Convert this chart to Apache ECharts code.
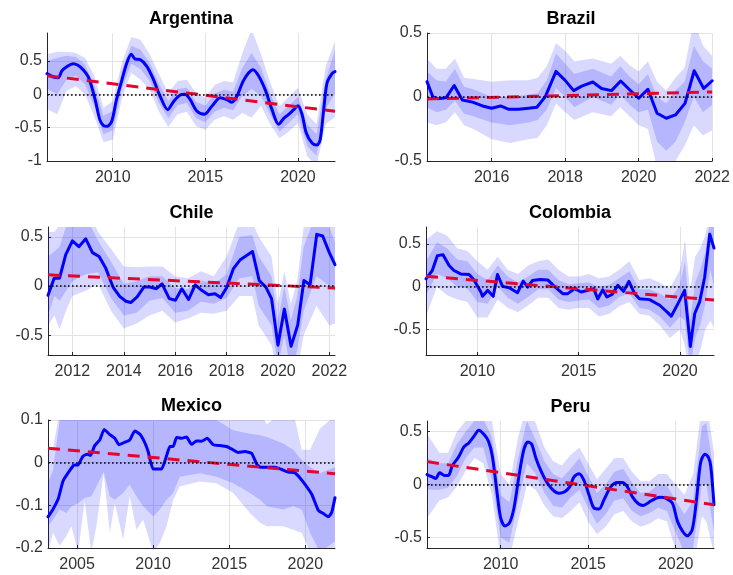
<!DOCTYPE html>
<html><head><meta charset="utf-8">
<script src="https://cdn.jsdelivr.net/npm/echarts@6/dist/echarts.min.js"></script>
<style>html,body{margin:0;padding:0;background:#fff}#c{width:733px;height:575px}</style>
</head><body><div id="c"></div>
<script>
// ---------------- DATA ----------------
const panelTitles = ['Argentina', 'Brazil', 'Chile', 'Colombia', 'Mexico', 'Peru'];

// Argentina
const argentinaXRange = [2006.45, 2022.0];
const argentinaYRange = [-1, 0.92];
const argentinaXTicks = [2010, 2015, 2020];
const argentinaYTicks = [-1, -0.5, 0, 0.5];
const argentinaLineX = [2006.45,2006.8,2007.06,2007.25,2007.55,2007.85,2008.1,2008.4,2008.7,2009.05,2009.3,2009.5,2009.7,2009.95,2010.2,2010.5,2010.76,2011.0,2011.2,2011.48,2011.84,2012.2,2012.56,2012.97,2013.28,2013.64,2013.9,2014.18,2014.54,2014.94,2015.35,2015.8,2016.16,2016.43,2016.7,2017.03,2017.33,2017.57,2017.87,2018.23,2018.6,2018.96,2019.23,2019.5,2019.77,2020.0,2020.22,2020.45,2020.76,2021.03,2021.2,2021.39,2021.57,2021.84,2022.0];
const argentinaLineY = [0.31,0.26,0.25,0.35,0.42,0.46,0.44,0.37,0.25,-0.08,-0.38,-0.47,-0.48,-0.40,-0.08,0.22,0.47,0.60,0.53,0.52,0.42,0.22,-0.03,-0.23,-0.11,-0.01,0.0,-0.08,-0.25,-0.30,-0.18,-0.05,-0.08,-0.12,-0.03,0.19,0.32,0.37,0.28,0.07,-0.23,-0.45,-0.36,-0.30,-0.23,-0.17,-0.30,-0.58,-0.73,-0.76,-0.68,-0.23,0.17,0.31,0.34];
const argentinaBandX = [2006.45,2007,2007.5,2008,2008.5,2009,2009.5,2010,2010.5,2011,2011.5,2012,2012.5,2013,2013.5,2014,2014.5,2015,2015.5,2016,2016.5,2017,2017.5,2018,2018.5,2019,2019.5,2020,2020.5,2021,2021.5,2022];
const argentinaOuterHi = [0.60,0.64,0.64,0.62,0.55,0.28,-0.20,-0.10,0.48,0.86,0.82,0.60,0.30,0.02,0.20,0.22,0.02,-0.05,0.14,0.20,0.18,0.62,0.98,0.60,0.18,-0.18,-0.04,0.10,-0.30,-0.45,0.42,0.80];
const argentinaInnerHi = [0.50,0.55,0.58,0.56,0.45,0.13,-0.32,-0.25,0.36,0.73,0.67,0.47,0.15,-0.10,0.08,0.10,-0.11,-0.17,0.01,0.07,0.04,0.40,0.62,0.40,0.01,-0.30,-0.17,-0.04,-0.45,-0.60,0.22,0.66];
const argentinaInnerLo = [0.08,0.00,0.22,0.28,0.15,-0.18,-0.60,-0.54,0.08,0.46,0.38,0.20,-0.13,-0.36,-0.16,-0.13,-0.36,-0.42,-0.26,-0.20,-0.24,-0.02,0.08,-0.02,-0.30,-0.56,-0.43,-0.30,-0.78,-0.92,-0.22,0.02];
const argentinaOuterLo = [-0.22,-0.30,0.05,0.12,0.00,-0.33,-0.72,-0.68,-0.06,0.32,0.22,0.06,-0.26,-0.49,-0.30,-0.26,-0.48,-0.53,-0.38,-0.33,-0.38,-0.28,-0.35,-0.17,-0.45,-0.66,-0.56,-0.43,-0.93,-1.08,-0.45,-0.34];
const argentinaTrendX = [2006.45, 2022.0];
const argentinaTrendY = [0.28, -0.255];

// Brazil
const brazilXRange = [2014.24, 2022.0];
const brazilYRange = [-0.5, 0.5];
const brazilXTicks = [2016, 2018, 2020, 2022];
const brazilYTicks = [-0.5, 0, 0.5];
const brazilLineX = [2014.24,2014.4,2014.53,2014.76,2014.98,2015.2,2015.48,2015.75,2016.0,2016.24,2016.47,2016.74,2017.0,2017.23,2017.46,2017.75,2018.0,2018.23,2018.45,2018.75,2018.99,2019.26,2019.51,2019.76,2020.0,2020.25,2020.5,2020.75,2021.0,2021.26,2021.51,2021.77,2022.0];
const brazilLineY = [0.12,0.0,-0.013,-0.005,0.09,-0.023,-0.04,-0.07,-0.088,-0.07,-0.096,-0.096,-0.088,-0.08,0.003,0.2,0.13,0.05,0.085,0.117,0.067,0.05,0.125,0.055,-0.01,0.06,-0.127,-0.166,-0.14,-0.05,0.205,0.067,0.127];
const brazilBandX = [2014.24,2014.5,2014.75,2015,2015.25,2015.5,2016,2016.5,2017,2017.25,2017.5,2017.75,2018,2018.25,2018.75,2019.25,2019.5,2019.75,2020,2020.25,2020.5,2020.75,2021,2021.25,2021.5,2021.75,2022];
const brazilOuterHi = [0.30,0.22,0.22,0.30,0.15,0.14,0.12,0.13,0.13,0.15,0.24,0.42,0.36,0.28,0.30,0.26,0.32,0.25,0.20,0.28,0.12,0.05,0.15,0.23,0.60,0.40,0.32];
const brazilInnerHi = [0.20,0.13,0.12,0.22,0.08,0.06,0.00,0.00,0.02,0.03,0.13,0.34,0.26,0.18,0.22,0.16,0.24,0.16,0.10,0.18,0.00,-0.05,0.05,0.12,0.40,0.28,0.22];
const brazilInnerLo = [-0.08,-0.12,-0.10,-0.03,-0.13,-0.15,-0.20,-0.22,-0.20,-0.18,-0.10,0.07,0.00,-0.08,0.00,-0.06,0.02,-0.06,-0.12,-0.10,-0.35,-0.42,-0.35,-0.20,0.00,-0.12,-0.06];
const brazilOuterLo = [-0.20,-0.22,-0.20,-0.12,-0.22,-0.25,-0.33,-0.36,-0.33,-0.32,-0.22,-0.05,-0.12,-0.18,-0.12,-0.15,-0.08,-0.15,-0.22,-0.25,-0.55,-0.60,-0.50,-0.38,-0.22,-0.30,-0.26];
const brazilTrendX = [2014.24, 2022.0];
const brazilTrendY = [-0.015, 0.04];

// Chile
const chileXRange = [2011.05, 2022.22];
const chileYRange = [-0.7, 0.6];
const chileXTicks = [2012, 2014, 2016, 2018, 2020, 2022];
const chileYTicks = [-0.5, 0, 0.5];
const chileLineX = [2011.05,2011.29,2011.5,2011.74,2012.0,2012.25,2012.52,2012.78,2013.04,2013.3,2013.58,2013.84,2014.08,2014.27,2014.52,2014.78,2015.01,2015.27,2015.49,2015.77,2016.01,2016.26,2016.52,2016.78,2017.03,2017.29,2017.55,2017.77,2018.0,2018.26,2018.52,2018.78,2019.01,2019.27,2019.53,2019.75,2020.0,2020.25,2020.51,2020.77,2021.01,2021.25,2021.51,2021.74,2022.0,2022.22];
const chileLineY = [-0.094,0.08,0.08,0.32,0.46,0.40,0.48,0.34,0.30,0.18,-0.01,-0.104,-0.154,-0.167,-0.11,-0.01,-0.01,-0.027,0.023,-0.127,-0.144,-0.027,-0.137,0.013,-0.043,-0.087,-0.077,-0.117,-0.017,0.174,0.264,0.31,0.35,0.057,-0.01,-0.127,-0.60,-0.234,-0.612,-0.395,0.057,0.013,0.525,0.508,0.34,0.217];
const chileBandX = [2011.05,2011.3,2011.5,2011.75,2012,2012.5,2013,2013.5,2014,2014.5,2015,2015.5,2016,2016.5,2017,2017.5,2018,2018.5,2019,2019.25,2019.75,2020,2020.25,2020.5,2020.75,2021,2021.5,2022,2022.22];
const chileOuterHi = [0.55,0.55,0.62,0.72,0.80,0.85,0.55,0.38,0.20,0.19,0.20,0.20,0.10,0.08,0.15,0.10,0.30,0.65,0.65,0.50,0.30,-0.18,0.15,-0.18,0.05,0.60,0.90,0.75,0.60];
const chileInnerHi = [0.30,0.35,0.40,0.60,0.70,0.72,0.46,0.25,0.02,0.05,0.10,0.10,-0.02,-0.03,0.06,0.02,0.12,0.50,0.52,0.30,0.10,-0.35,0.00,-0.35,-0.10,0.40,0.75,0.60,0.45];
const chileInnerLo = [-0.30,-0.10,-0.15,-0.05,0.05,0.12,0.14,-0.12,-0.30,-0.27,-0.15,-0.12,-0.27,-0.25,-0.16,-0.18,-0.12,0.08,0.10,-0.20,-0.40,-0.80,-0.50,-0.85,-0.65,-0.25,0.10,0.00,-0.05];
const chileOuterLo = [-0.40,-0.30,-0.44,-0.25,-0.10,-0.05,0.02,-0.25,-0.43,-0.38,-0.30,-0.25,-0.37,-0.33,-0.27,-0.28,-0.25,-0.10,-0.10,-0.40,-0.60,-0.90,-0.70,-1.00,-0.85,-0.50,-0.20,-0.40,-0.38];
const chileTrendX = [2011.05, 2022.22];
const chileTrendY = [0.114, -0.02];

// Colombia
const colombiaXRange = [2007.46, 2021.68];
const colombiaYRange = [-0.8, 0.7];
const colombiaXTicks = [2010, 2015, 2020];
const colombiaYTicks = [-0.5, 0, 0.5];
const colombiaLineX = [2007.46,2007.77,2008.02,2008.3,2008.6,2008.84,2009.17,2009.59,2009.83,2010.17,2010.25,2010.5,2010.78,2010.99,2011.24,2011.57,2011.98,2012.26,2012.48,2012.72,2013.09,2013.47,2013.8,2014.21,2014.46,2014.79,2015.12,2015.45,2015.74,2015.94,2016.19,2016.39,2016.65,2016.93,2017.21,2017.48,2017.76,2018.0,2018.5,2019.0,2019.41,2019.57,2019.9,2020.23,2020.48,2020.51,2020.73,2020.97,2021.22,2021.47,2021.68];
const colombiaLineY = [0.093,0.19,0.364,0.376,0.248,0.19,0.15,0.143,0.08,-0.062,-0.112,-0.043,-0.112,0.143,0.004,-0.012,-0.07,0.066,-0.004,0.074,0.085,0.08,0.004,-0.081,-0.081,-0.023,-0.062,-0.043,-0.023,-0.143,-0.035,-0.12,-0.089,0.016,-0.054,0.062,-0.081,-0.14,-0.151,-0.217,-0.306,-0.345,-0.198,-0.043,-0.616,-0.70,-0.314,-0.178,0.112,0.616,0.453];
const colombiaBandX = [2007.46,2008,2008.5,2009,2009.5,2010,2010.5,2011,2011.5,2012,2012.5,2013,2013.5,2014,2014.5,2015,2015.5,2016,2016.5,2017,2017.5,2018,2018.5,2019,2019.5,2020,2020.25,2020.5,2020.75,2021,2021.25,2021.5,2021.68];
const colombiaOuterHi = [0.55,0.65,0.60,0.45,0.42,0.30,0.20,0.35,0.20,0.15,0.25,0.30,0.32,0.20,0.12,0.12,0.15,0.10,0.12,0.20,0.30,0.08,0.10,0.05,-0.02,0.20,0.55,-0.05,0.35,0.45,0.60,0.90,0.80];
const colombiaInnerHi = [0.30,0.52,0.45,0.32,0.30,0.15,0.08,0.25,0.12,0.05,0.12,0.20,0.20,0.08,0.03,0.04,0.05,0.00,0.02,0.10,0.18,-0.03,-0.03,-0.08,-0.15,0.02,0.30,-0.40,0.05,0.20,0.40,0.80,0.70];
const colombiaInnerLo = [-0.10,0.15,0.10,0.00,-0.02,-0.18,-0.20,0.00,-0.13,-0.20,-0.12,-0.03,-0.03,-0.15,-0.18,-0.16,-0.15,-0.25,-0.22,-0.12,-0.08,-0.25,-0.27,-0.35,-0.48,-0.35,-0.40,-0.95,-0.60,-0.45,-0.20,0.20,0.00];
const colombiaOuterLo = [-0.35,0.00,-0.10,-0.15,-0.18,-0.36,-0.36,-0.15,-0.25,-0.30,-0.22,-0.13,-0.13,-0.25,-0.27,-0.25,-0.25,-0.35,-0.32,-0.23,-0.18,-0.32,-0.34,-0.45,-0.60,-0.50,-0.70,-1.10,-0.90,-0.75,-0.50,-0.40,-0.48];
const colombiaTrendX = [2007.46, 2021.68];
const colombiaTrendY = [0.124, -0.155];

// Mexico
const mexicoXRange = [2003.09, 2021.95];
const mexicoYRange = [-0.2, 0.1];
const mexicoXTicks = [2005, 2010, 2015, 2020];
const mexicoYTicks = [-0.2, -0.1, 0, 0.1];
const mexicoLineX = [2003.09,2003.42,2003.75,2004.08,2004.41,2004.78,2005.07,2005.39,2005.66,2005.88,2006.16,2006.49,2006.78,2007.11,2007.48,2007.76,2008.14,2008.46,2008.79,2009.12,2009.45,2009.67,2010.0,2010.55,2010.88,2011.1,2011.32,2011.54,2011.86,2012.19,2012.52,2012.85,2013.18,2013.55,2013.95,2014.39,2014.82,2015.26,2015.59,2016.03,2016.47,2016.8,2017.06,2017.46,2018.0,2018.44,2018.88,2019.32,2019.65,2019.98,2020.42,2020.86,2021.18,2021.51,2021.73,2021.95];
const mexicoLineY = [-0.127,-0.109,-0.086,-0.043,-0.024,-0.006,-0.005,0.015,0.02,0.017,0.04,0.053,0.078,0.067,0.057,0.042,0.048,0.053,0.074,0.067,0.047,0.026,-0.015,-0.015,0.016,0.038,0.038,0.059,0.057,0.06,0.043,0.051,0.05,0.057,0.042,0.04,0.038,0.03,0.024,0.026,0.022,-0.003,-0.011,-0.011,-0.011,-0.016,-0.022,-0.024,-0.036,-0.051,-0.074,-0.112,-0.119,-0.127,-0.117,-0.082];
const mexicoBandX = [2003.09,2003.42,2003.86,2004.3,2004.63,2005.07,2005.5,2005.94,2006.27,2006.75,2007.15,2007.48,2008.03,2008.46,2008.9,2009.34,2010.0,2010.44,2010.88,2011.32,2011.75,2013.07,2014.17,2015.26,2016.36,2017.02,2017.46,2018.55,2019.21,2019.76,2020.31,2020.96,2021.95];
const mexicoOuterHi = [0.035,0.035,0.12,0.12,0.12,0.12,0.12,0.12,0.12,0.12,0.12,0.12,0.12,0.12,0.12,0.12,0.12,0.12,0.12,0.12,0.12,0.12,0.12,0.12,0.12,0.12,0.09,0.12,0.12,0.03,0.03,0.08,0.11];
const mexicoInnerHi = [-0.048,-0.017,0.10,0.12,0.12,0.12,0.12,0.12,0.12,0.12,0.12,0.12,0.12,0.12,0.12,0.12,0.12,0.10,0.10,0.10,0.10,0.10,0.10,0.076,0.068,0.064,0.06,0.045,0.03,0.006,-0.01,-0.025,-0.01];
const mexicoInnerLo = [-0.149,-0.133,-0.11,-0.118,-0.102,-0.095,-0.083,-0.079,-0.056,-0.021,-0.079,-0.087,-0.071,-0.052,-0.079,-0.102,-0.126,-0.11,-0.087,-0.071,-0.033,-0.025,-0.033,-0.048,-0.071,-0.087,-0.102,-0.11,-0.102,-0.11,-0.164,-0.21,-0.185];
const mexicoOuterLo = [-0.21,-0.164,-0.195,-0.172,-0.149,-0.21,-0.09,-0.21,-0.149,-0.025,-0.164,-0.095,-0.18,-0.079,-0.157,-0.133,-0.21,-0.188,-0.149,-0.087,-0.056,-0.044,-0.048,-0.071,-0.118,-0.141,-0.149,-0.149,-0.157,-0.164,-0.21,-0.23,-0.2];
const mexicoTrendX = [2003.09, 2021.95];
const mexicoTrendY = [0.034, -0.026];

// Peru
const peruXRange = [2005.79, 2022.19];
const peruYRange = [-0.6, 0.6];
const peruXTicks = [2010, 2015, 2020];
const peruYTicks = [-0.5, 0, 0.5];
const peruLineX = [2005.79,2006.1,2006.29,2006.51,2006.8,2007.01,2007.24,2007.58,2007.9,2008.19,2008.48,2008.76,2009.05,2009.3,2009.52,2009.81,2010.0,2010.25,2010.51,2010.76,2011.05,2011.33,2011.56,2011.77,2012.0,2012.29,2012.57,2012.95,2013.33,2013.66,2013.94,2014.19,2014.48,2014.76,2015.05,2015.33,2015.62,2015.9,2016.29,2016.67,2016.95,2017.24,2017.52,2017.87,2018.15,2018.48,2018.86,2019.14,2019.43,2019.81,2020.1,2020.38,2020.67,2020.95,2021.18,2021.43,2021.68,2021.87,2022.0,2022.19];
const peruLineY = [0.093,0.071,0.056,0.111,0.086,0.086,0.179,0.256,0.355,0.395,0.457,0.512,0.472,0.41,0.272,-0.099,-0.315,-0.392,-0.361,-0.222,0.086,0.333,0.401,0.38,0.256,0.133,0.04,-0.046,-0.083,-0.068,-0.022,0.071,0.102,0.04,-0.099,-0.222,-0.231,-0.145,-0.022,0.019,0.019,-0.022,-0.114,-0.182,-0.198,-0.167,-0.13,-0.12,-0.13,-0.176,-0.346,-0.438,-0.485,-0.423,-0.16,0.21,0.287,0.256,0.179,-0.191];
const peruBandX = [2005.79,2006.5,2007.0,2007.5,2008.0,2008.5,2009.0,2009.5,2010.0,2010.5,2011.0,2011.5,2012.0,2012.5,2013.0,2013.5,2014.0,2014.5,2015.0,2015.5,2016.0,2016.5,2017.0,2017.5,2018.0,2018.5,2019.0,2019.5,2020.0,2020.5,2021.0,2021.5,2021.75,2022.19];
const peruOuterHi = [0.48,0.30,0.30,0.50,0.60,0.70,0.70,0.60,0.10,0.00,0.45,0.75,0.58,0.35,0.22,0.18,0.28,0.35,0.20,0.05,0.15,0.25,0.25,0.12,0.03,0.03,0.10,0.10,0.00,-0.10,0.10,0.75,0.80,0.30];
const peruInnerHi = [0.25,0.20,0.20,0.38,0.50,0.60,0.62,0.45,-0.10,-0.17,0.25,0.60,0.42,0.22,0.10,0.06,0.15,0.25,0.08,-0.08,0.00,0.12,0.15,0.02,-0.08,-0.07,0.00,-0.01,-0.15,-0.28,-0.15,0.55,0.58,0.10];
const peruInnerLo = [-0.05,-0.05,-0.03,0.08,0.25,0.35,0.35,0.05,-0.50,-0.55,-0.15,0.20,0.10,-0.08,-0.20,-0.22,-0.12,-0.05,-0.22,-0.37,-0.28,-0.15,-0.13,-0.25,-0.30,-0.27,-0.22,-0.25,-0.45,-0.65,-0.60,0.00,0.00,-0.45];
const peruOuterLo = [-0.32,-0.15,-0.12,-0.02,0.13,0.25,0.20,-0.10,-0.70,-0.70,-0.35,0.00,-0.05,-0.20,-0.30,-0.32,-0.25,-0.17,-0.35,-0.47,-0.40,-0.28,-0.25,-0.35,-0.40,-0.37,-0.32,-0.35,-0.62,-0.80,-0.80,-0.30,-0.35,-0.65];
const peruTrendX = [2005.79, 2022.19];
const peruTrendY = [0.216, -0.191];

// ---------------- LAYOUT / STYLE ----------------
const panels = [
  {title: panelTitles[0], grid: {left: 47, top: 33, width: 288, height: 128}, xr: argentinaXRange, yr: argentinaYRange, xt: argentinaXTicks, yt: argentinaYTicks, lx: argentinaLineX, ly: argentinaLineY, bx: argentinaBandX, oh: argentinaOuterHi, ih: argentinaInnerHi, il: argentinaInnerLo, ol: argentinaOuterLo, tx: argentinaTrendX, ty: argentinaTrendY, smooth: 0.3},
  {title: panelTitles[1], grid: {left: 427, top: 33, width: 288, height: 128}, xr: brazilXRange, yr: brazilYRange, xt: brazilXTicks, yt: brazilYTicks, lx: brazilLineX, ly: brazilLineY, bx: brazilBandX, oh: brazilOuterHi, ih: brazilInnerHi, il: brazilInnerLo, ol: brazilOuterLo, tx: brazilTrendX, ty: brazilTrendY, smooth: 0},
  {title: panelTitles[2], grid: {left: 48, top: 227, width: 287, height: 128}, xr: chileXRange, yr: chileYRange, xt: chileXTicks, yt: chileYTicks, lx: chileLineX, ly: chileLineY, bx: chileBandX, oh: chileOuterHi, ih: chileInnerHi, il: chileInnerLo, ol: chileOuterLo, tx: chileTrendX, ty: chileTrendY, smooth: 0},
  {title: panelTitles[3], grid: {left: 426, top: 227, width: 288, height: 128}, xr: colombiaXRange, yr: colombiaYRange, xt: colombiaXTicks, yt: colombiaYTicks, lx: colombiaLineX, ly: colombiaLineY, bx: colombiaBandX, oh: colombiaOuterHi, ih: colombiaInnerHi, il: colombiaInnerLo, ol: colombiaOuterLo, tx: colombiaTrendX, ty: colombiaTrendY, smooth: 0},
  {title: panelTitles[4], grid: {left: 48, top: 420, width: 287, height: 128}, xr: mexicoXRange, yr: mexicoYRange, xt: mexicoXTicks, yt: mexicoYTicks, lx: mexicoLineX, ly: mexicoLineY, bx: mexicoBandX, oh: mexicoOuterHi, ih: mexicoInnerHi, il: mexicoInnerLo, ol: mexicoOuterLo, tx: mexicoTrendX, ty: mexicoTrendY, smooth: 0.15},
  {title: panelTitles[5], grid: {left: 427, top: 421, width: 287, height: 127}, xr: peruXRange, yr: peruYRange, xt: peruXTicks, yt: peruYTicks, lx: peruLineX, ly: peruLineY, bx: peruBandX, oh: peruOuterHi, ih: peruInnerHi, il: peruInnerLo, ol: peruOuterLo, tx: peruTrendX, ty: peruTrendY, smooth: 0.3}
];

const FONT = '"Liberation Sans", Arial, Helvetica, sans-serif';
const AXIS_COLOR = '#262626';
const GRID_COLOR = '#e3e3e3';
const OUTER_FILL = 'rgba(0,0,255,0.15)';
const INNER_FILL = 'rgba(0,0,255,0.16)';

function zip(a, b) { return a.map((v, i) => [v, b[i]]); }

function bandSeries(i, xs, lo, hi, fill) {
  return {
    type: 'custom', xAxisIndex: i, yAxisIndex: i, silent: true, z: 1,
    data: [[xs[0], lo[0]]],
    renderItem: function (params, api) {
      const pts = [];
      for (let k = 0; k < xs.length; k++) pts.push(api.coord([xs[k], hi[k]]));
      for (let k = xs.length - 1; k >= 0; k--) pts.push(api.coord([xs[k], lo[k]]));
      const cs = params.coordSys;
      return {
        type: 'polygon', shape: {points: pts}, style: {fill: fill},
        clipPath: {type: 'rect', shape: {x: cs.x, y: cs.y, width: cs.width, height: cs.height}}
      };
    }
  };
}

const grids = [], xAxes = [], yAxes = [], series = [], graphics = [];
panels.forEach((p, i) => {
  grids.push(Object.assign({containLabel: false}, p.grid));
  xAxes.push({
    type: 'value', gridIndex: i, min: p.xr[0], max: p.xr[1],
    axisLine: {show: true, onZero: false, lineStyle: {color: AXIS_COLOR, width: 1}},
    axisTick: {show: true, inside: true, length: 3, customValues: p.xt, lineStyle: {color: AXIS_COLOR}},
    axisLabel: {customValues: p.xt, margin: 9, color: '#333', fontSize: 16, fontFamily: FONT, formatter: v => String(v)},
    splitLine: {show: true, lineStyle: {color: GRID_COLOR, width: 1}}
  });
  yAxes.push({
    type: 'value', gridIndex: i, min: p.yr[0], max: p.yr[1],
    axisLine: {show: true, onZero: false, lineStyle: {color: AXIS_COLOR, width: 1}},
    axisTick: {show: true, inside: true, length: 3, customValues: p.yt, lineStyle: {color: AXIS_COLOR}},
    axisLabel: {customValues: p.yt, margin: 5, color: '#333', fontSize: 16, fontFamily: FONT, formatter: v => String(+v.toFixed(2))},
    splitLine: {show: true, lineStyle: {color: GRID_COLOR, width: 1}}
  });
  series.push(bandSeries(i, p.bx, p.ol, p.oh, OUTER_FILL));
  series.push(bandSeries(i, p.bx, p.il, p.ih, INNER_FILL));
  series.push({
    type: 'line', xAxisIndex: i, yAxisIndex: i, data: zip(p.lx, p.ly),
    showSymbol: false, symbol: 'none', smooth: p.smooth, silent: true, z: 3,
    lineStyle: {color: '#0000ff', width: 3, cap: 'round', join: 'round'},
    markLine: {
      silent: true, symbol: 'none', label: {show: false},
      lineStyle: {color: '#000', width: 1.6, type: [1.6, 2.4]},
      data: [{yAxis: 0}]
    }
  });
  series.push({
    type: 'line', xAxisIndex: i, yAxisIndex: i, data: zip(p.tx, p.ty),
    showSymbol: false, symbol: 'none', silent: true, z: 4,
    lineStyle: {color: '#e0082e', width: 3, type: [12, 8]}
  });
  graphics.push({
    type: 'text', x: p.grid.left + p.grid.width / 2, y: p.grid.top - 13.5,
    style: {text: p.title, font: 'bold 18px ' + FONT, fill: '#000', align: 'center', verticalAlign: 'middle', textAlign: 'center', textVerticalAlign: 'middle'}
  });
});

const chart = echarts.init(document.getElementById('c'), null, {renderer: 'canvas'});
chart.setOption({
  backgroundColor: '#ffffff',
  animation: false,
  grid: grids, xAxis: xAxes, yAxis: yAxes, series: series,
  graphic: graphics
});
</script></body></html>
